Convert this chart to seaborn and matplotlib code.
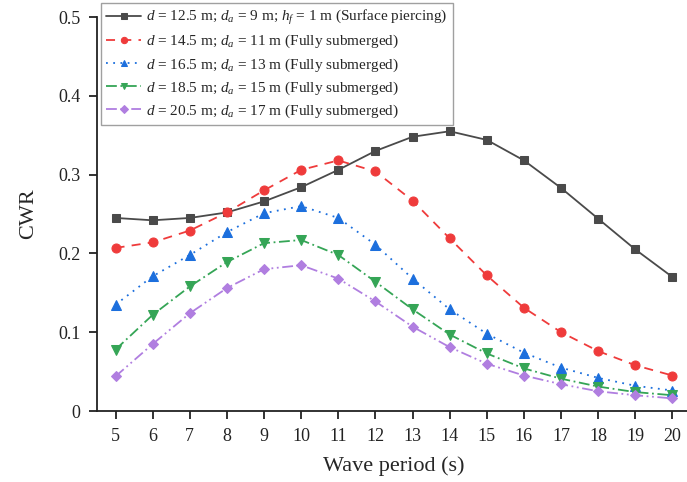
import matplotlib
matplotlib.use("Agg")
import matplotlib.pyplot as plt
import seaborn as sns
import pandas as pd

periods = list(range(5, 21))
cwr_d125 = [0.245, 0.242, 0.245, 0.252, 0.266, 0.284, 0.306, 0.330, 0.348, 0.355, 0.344, 0.318, 0.283, 0.244, 0.205, 0.170]
cwr_d145 = [0.207, 0.214, 0.229, 0.252, 0.280, 0.306, 0.318, 0.304, 0.267, 0.219, 0.172, 0.131, 0.100, 0.076, 0.058, 0.045]
cwr_d165 = [0.135, 0.171, 0.198, 0.227, 0.251, 0.260, 0.245, 0.211, 0.168, 0.129, 0.098, 0.074, 0.055, 0.042, 0.032, 0.026]
cwr_d185 = [0.078, 0.122, 0.158, 0.189, 0.213, 0.217, 0.198, 0.164, 0.129, 0.097, 0.073, 0.054, 0.041, 0.031, 0.024, 0.020]
cwr_d205 = [0.044, 0.085, 0.124, 0.156, 0.180, 0.185, 0.168, 0.139, 0.107, 0.081, 0.060, 0.045, 0.034, 0.025, 0.020, 0.016]

labels = [
    r"$d$ = 12.5 m; $d_a$ = 9 m; $h_f$ = 1 m (Surface piercing)",
    r"$d$ = 14.5 m; $d_a$ = 11 m (Fully submerged)",
    r"$d$ = 16.5 m; $d_a$ = 13 m (Fully submerged)",
    r"$d$ = 18.5 m; $d_a$ = 15 m (Fully submerged)",
    r"$d$ = 20.5 m; $d_a$ = 17 m (Fully submerged)",
]
series = [cwr_d125, cwr_d145, cwr_d165, cwr_d185, cwr_d205]
colors = ["#4a4a4a", "#ef3b3b", "#1c6fdd", "#35a556", "#b07ee0"]
markers = ["s", "o", "^", "v", "D"]
msizes = [5.5, 6.5, 6.5, 6.5, 5.5]
styles = ["-", (0, (5, 4)), (0, (1, 3)), (0, (6, 2, 1, 2)), (0, (6, 2, 1, 2, 1, 2))]

sns.set_style("ticks")
plt.rcParams["font.family"] = ["Liberation Serif", "DejaVu Serif"]
plt.rcParams["mathtext.fontset"] = "custom"
plt.rcParams["mathtext.rm"] = "Liberation Serif"
plt.rcParams["mathtext.it"] = "Liberation Serif:italic"

fig = plt.figure(figsize=(6.87, 4.82), dpi=100)
ax = fig.add_axes([97 / 687, (482 - 411) / 482, (691 - 97) / 687, (411 - 17) / 482])

for vals, lab, c, m, ms, ls in zip(series, labels, colors, markers, msizes, styles):
    df = pd.DataFrame({"T": periods, "CWR": vals})
    sns.lineplot(data=df, x="T", y="CWR", ax=ax, color=c, marker=m, markersize=ms,
                 markeredgecolor=c, linestyle=ls, linewidth=1.3, label=lab)

ax.set_xlim(4.5, 20.5)
ax.set_ylim(0, 0.5)
ax.set_xticks(periods)
ax.set_yticks([0, 0.1, 0.2, 0.3, 0.4, 0.5])
ax.set_yticklabels(["0", "0.1", "0.2", "0.3", "0.4", "0.5"])
for s in ["top", "right"]:
    ax.spines[s].set_visible(False)
for s in ["left", "bottom"]:
    ax.spines[s].set_linewidth(1.3)
    ax.spines[s].set_color("#222222")
ax.tick_params(direction="out", length=6, width=1.3, labelsize=13, colors="#222222", pad=6)
ax.set_xlabel("Wave period (s)", fontsize=16, labelpad=8)
ax.set_ylabel("CWR", fontsize=16, labelpad=14)

leg = ax.legend(loc="upper left", bbox_to_anchor=(101 / 687, 1 - 3 / 482),
                bbox_transform=fig.transFigure, fontsize=11, frameon=True,
                fancybox=False, edgecolor="#888888", handlelength=2.3, markerscale=0.7,
                borderpad=0.35, labelspacing=0.38, handletextpad=0.3, borderaxespad=0)
leg.get_frame().set_linewidth(1.0)
leg.set_zorder(5)

fig.savefig("out.png", dpi=100)
